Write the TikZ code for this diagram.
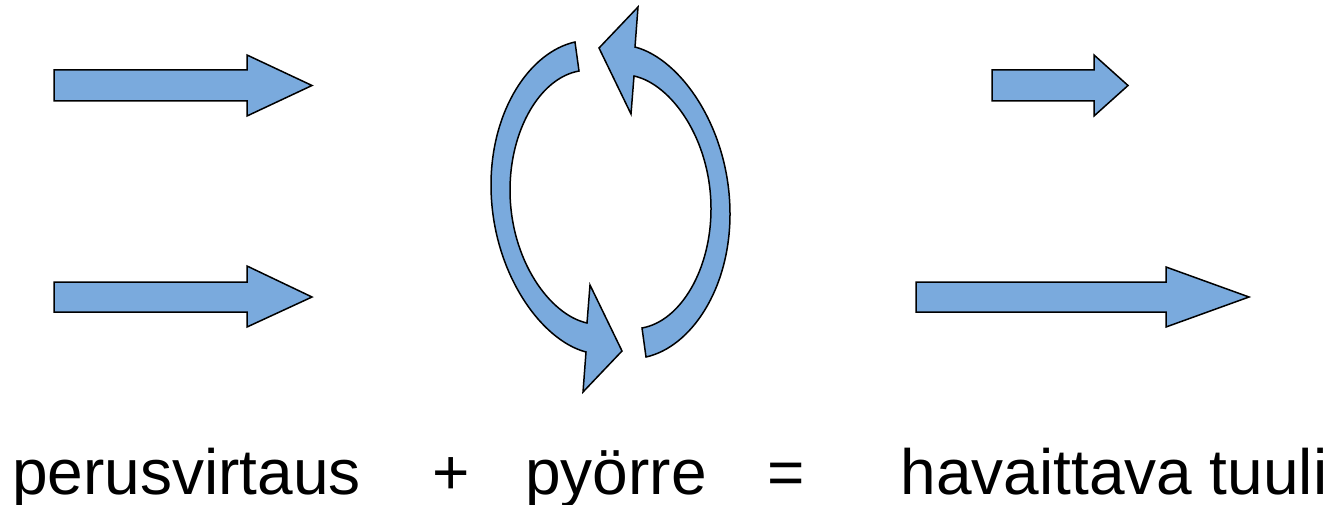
\documentclass[tikz,border=0pt]{standalone}
\usepackage{fontspec}
\setmainfont{Liberation Sans}
\definecolor{flowblue}{RGB}{122,170,221}
\begin{document}
\begin{tikzpicture}[x=1pt,y=-1pt,
  flowshape/.style={draw=black, fill=flowblue, line width=1.5pt, line join=miter},
  caption/.style={anchor=base, inner sep=0pt, font=\fontsize{64}{70}\selectfont}]
\useasboundingbox (0,0) rectangle (1337,505);

% straight flow arrows
\draw[flowshape] (54,70) -- (247,70) -- (247,55) -- (312,85.5) -- (247,116) -- (247,101) -- (54,101) -- cycle;
\draw[flowshape] (54,282) -- (247,282) -- (247,266) -- (312,297) -- (247,327) -- (247,312) -- (54,312) -- cycle;
\draw[flowshape] (992,70) -- (1094,70) -- (1094,55) -- (1128,85.5) -- (1094,116) -- (1094,101) -- (992,101) -- cycle;
\draw[flowshape] (916,282) -- (1166,282) -- (1166,267) -- (1249,297) -- (1166,327) -- (1166,312) -- (916,312) -- cycle;

% vortex: two curved arrows, the second is the first turned half a turn
\foreach \ang in {0,180} {
  \draw[flowshape, rotate around={\ang:(610.5,199.5)}]
    (575,42) .. controls (530,52) and (491,110) .. (491,185)
             .. controls (491,270) and (540,340) .. (586,352)
    -- (583,392) -- (622,351) -- (590,285) -- (587,323)
             .. controls (550,315) and (510,260) .. (510,190)
             .. controls (510,130) and (540,78) .. (579,71)
    -- cycle;
}

% captions
\node[caption] (perus) at (186.5,494) {perusvirtaus};
\node[caption] (plus)  at (451,494) {+};
\node[caption] (pyorre) at (616,494) {pyörre};
\node[caption] (equal) at (786,494) {=};
\node[caption] (tuuli) at (1114,494) {havaittava tuuli};
\end{tikzpicture}
\end{document}
